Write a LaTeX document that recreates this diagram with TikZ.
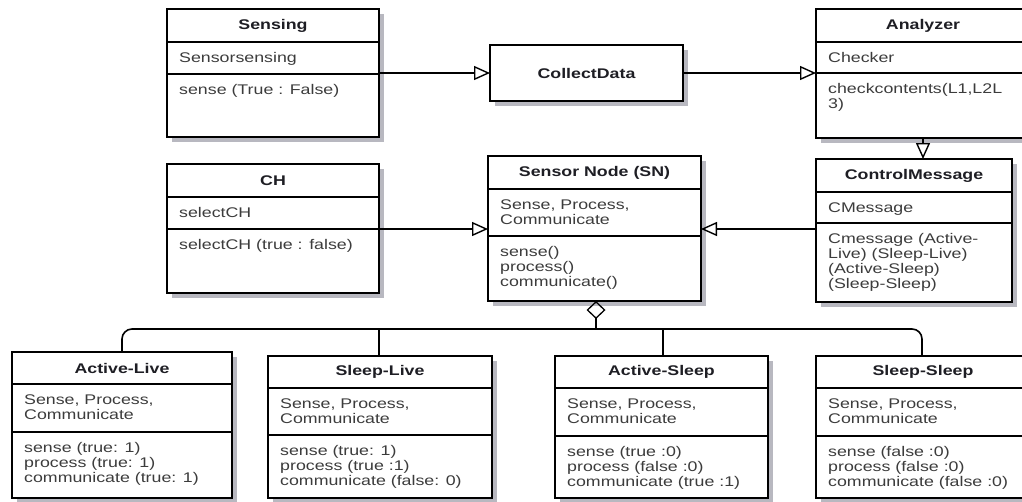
\documentclass[tikz,border=0pt]{standalone}
\usepackage{fontspec}
\setmainfont{Liberation Sans}[FakeStretch=1.27]
\usetikzlibrary{arrows.meta,calc}

\definecolor{titleink}{HTML}{1E1E24}
\definecolor{bodyink}{HTML}{3C3C3C}
\definecolor{shadowgray}{HTML}{B8B8C0}

\tikzset{
  classbox/.style={draw=black, line width=1.8pt, fill=white, inner sep=0pt, outer sep=0pt},
  boxshadow/.style={fill=shadowgray},
  sepline/.style={draw=black, line width=1.4pt},
  titletext/.style={font=\bfseries\fontsize{14}{15}\selectfont, text=titleink, inner sep=0pt},
  bodytext/.style={font=\fontsize{14}{15}\selectfont, text=bodyink, inner sep=0pt,
                   align=left, anchor=north west},
  inherit/.style={line width=1.1pt, -{Triangle[open, length=16pt, width=14pt, line width=1.4pt]}},
  bus/.style={line width=1.6pt, rounded corners=10pt},
  branch/.style={line width=1.3pt}
}

% #1 name, #2 left, #3 top, #4 right, #5 bottom, #6 first separator, #7 second separator, #8 title
\newcommand\umlclass[8]{%
  \fill[boxshadow] (#2+5,#3+5) rectangle (#4+5,#5+5);
  \node[classbox, minimum width={#4-#2}, minimum height={#5-#3}, anchor=north west] (#1) at (#2,#3) {};
  \draw[sepline] (#2,#6) -- (#4,#6);
  \draw[sepline] (#2,#7) -- (#4,#7);
  \node[titletext] (#1-title) at ({(#2+#4)/2},{(#3+#6)/2}) {#8};
  \coordinate (#1-attr) at (#2+12,#6+10.5);
  \coordinate (#1-meth) at (#2+12,#7+10.5);
  \coordinate (#1-sepeast) at (#4,#7);
  \coordinate (#1-sepwest) at (#2,#7);
}

\begin{document}
\begin{tikzpicture}[x=1pt, y=-1pt]
\useasboundingbox (0,0) rectangle (1022,501);
\clip (0,0) rectangle (1022,501);

% ---------- top row ----------
\umlclass{sensing}{167}{9}{379}{137}{42}{74}{Sensing}
\node[bodytext] at (sensing-attr) {Sensorsensing};
\node[bodytext] at (sensing-meth) {sense (True : False)};

\fill[boxshadow] (495,50) rectangle (688,106);
\node[classbox, minimum width=193, minimum height=56, anchor=north west] (collect) at (490,45) {};
\node[titletext] (collect-title) at (collect.center) {CollectData};

\umlclass{analyzer}{816}{9}{1030}{138}{42}{73}{Analyzer}
\node[bodytext] at (analyzer-attr) {Checker};
\node[bodytext] at (analyzer-meth) {checkcontents(L1,L2L\\3)};

% ---------- middle row ----------
\umlclass{ch}{167}{164}{379}{293}{197}{229}{CH}
\node[bodytext] at (ch-attr) {selectCH};
\node[bodytext] at (ch-meth) {selectCH (true : false)};

\umlclass{sn}{488}{156}{701}{301}{189}{236}{Sensor Node (SN)}
\node[bodytext] at (sn-attr) {Sense, Process,\\Communicate};
\node[bodytext] at (sn-meth) {sense()\\process()\\communicate()};

\umlclass{cmsg}{816}{159}{1012}{302}{192}{223}{ControlMessage}
\node[bodytext] at (cmsg-attr) {CMessage};
\node[bodytext] at (cmsg-meth) {Cmessage (Active-\\Live) (Sleep-Live)\\(Active-Sleep)\\(Sleep-Sleep)};

% ---------- bottom row ----------
\umlclass{al}{12}{352}{232}{498}{384}{432}{Active-Live}
\node[bodytext] at (al-attr) {Sense, Process,\\Communicate};
\node[bodytext] at (al-meth) {sense (true: 1)\\process (true: 1)\\communicate (true: 1)};

\umlclass{sl}{268}{356}{492}{498}{388}{435}{Sleep-Live}
\node[bodytext] at (sl-attr) {Sense, Process,\\Communicate};
\node[bodytext] at (sl-meth) {sense (true: 1)\\process (true :1)\\communicate (false: 0)};

\umlclass{as}{555}{356}{768}{498}{388}{436}{Active-Sleep}
\node[bodytext] at (as-attr) {Sense, Process,\\Communicate};
\node[bodytext] at (as-meth) {sense (true :0)\\process (false :0)\\communicate (true :1)};

\umlclass{ss}{816}{356}{1030}{498}{388}{436}{Sleep-Sleep}
\node[bodytext] at (ss-attr) {Sense, Process,\\Communicate};
\node[bodytext] at (ss-meth) {sense (false :0)\\process (false :0)\\communicate (false :0)};

% ---------- generalisations ----------
\draw[inherit] (sensing.east |- collect.west) -- (collect.west);
\draw[inherit] (collect.east) -- (analyzer.west |- collect.east);
\draw[inherit] (analyzer.south -| analyzer-title) -- (cmsg.north -| analyzer-title);
\draw[inherit] (ch-sepeast) -- (sn.west |- ch-sepeast);
\draw[inherit] (cmsg.west |- ch-sepeast) -- (sn.east |- ch-sepeast);

% ---------- aggregation bus ----------
\coordinate (hub) at (596,329);
\draw[line width=1.3pt, {Diamond[open, length=18pt, width=19pt, line width=1.3pt]}-] (596,301) -- (hub);
\draw[bus] (al.north -| 122,0) -- (122,329) -- (922,329) -- (ss.north -| 922,0);
\draw[branch] (sl.north -| 379,0) -- (379,329);
\draw[line width=1.8pt] (as.north -| 663,0) -- (663,329);
\end{tikzpicture}
\end{document}
